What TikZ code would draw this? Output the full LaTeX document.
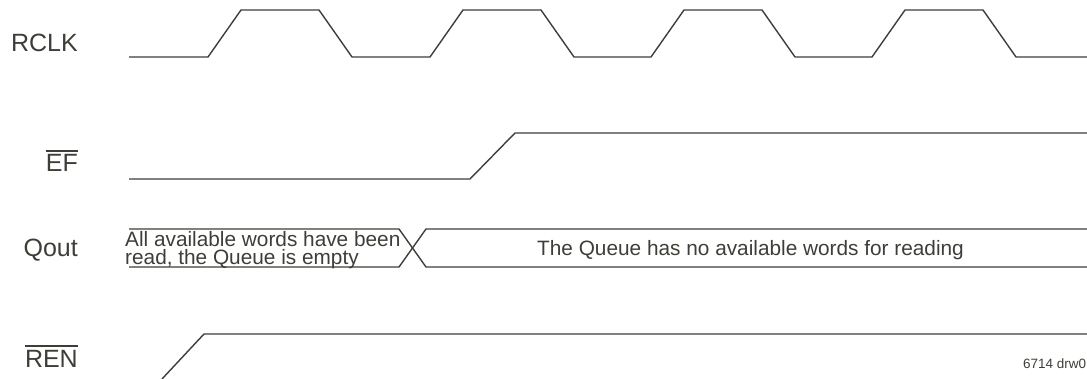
\documentclass[tikz,border=0pt]{standalone}
\usepackage{fontspec}
\setmainfont{Liberation Sans}
\definecolor{sig}{RGB}{62,62,57}
\newcommand\ovl[1]{\leavevmode\vbox{\hrule height 1.3pt\kern 3.2pt\hbox{#1}}}
\begin{document}
\begin{tikzpicture}[x=1pt,y=-1pt,
  wave/.style={draw=sig,line width=1.4pt,line join=miter},
  lbl/.style={anchor=base east,inner sep=0pt,text=sig,font=\fontsize{25}{30}\selectfont},
  txt/.style={anchor=base west,inner sep=0pt,text=sig,font=\fontsize{20.8}{17}\selectfont},
  note/.style={anchor=base west,inner sep=0pt,text=sig,font=\fontsize{13.5}{15}\selectfont}]
\useasboundingbox (0,0) rectangle (1087,379);
% labels
\node[lbl] (lrclk) at (78,52) {RCLK};
\node[lbl] (lef) at (78,172) {\ovl{EF}};
\node[lbl] (lqout) at (78,257) {Qout};
\node[lbl] (lren) at (78,367) {\ovl{REN}};
% RCLK
\draw[wave] (129,57) -- (208,57) -- (241,10) -- (319,10) -- (352,57)
  -- (430,57) -- (463,10) -- (541,10) -- (574,57)
  -- (651,57) -- (684,10) -- (762,10) -- (795,57)
  -- (872,57) -- (905,10) -- (983,10) -- (1016,57) -- (1087,57);
% EF
\draw[wave] (129,179) -- (470,179) -- (515,133) -- (1087,133);
% Qout bus
\draw[wave] (129,229) -- (399,229) -- (426,267) -- (1087,267);
\draw[wave] (129,267) -- (399,267) -- (426,229) -- (1087,229);
\node[txt] (q1) at (125,246.5) {All available words have been};
\node[txt] (q2) at (125,264.5) {read, the Queue is empty};
\node[txt] (q3) at (537,256) {The Queue has no available words for reading};
% REN
\draw[wave] (162,379) -- (204,334) -- (1087,334);
\node[note] (drw) at (1023,368) {6714 drw0};
\end{tikzpicture}
\end{document}
